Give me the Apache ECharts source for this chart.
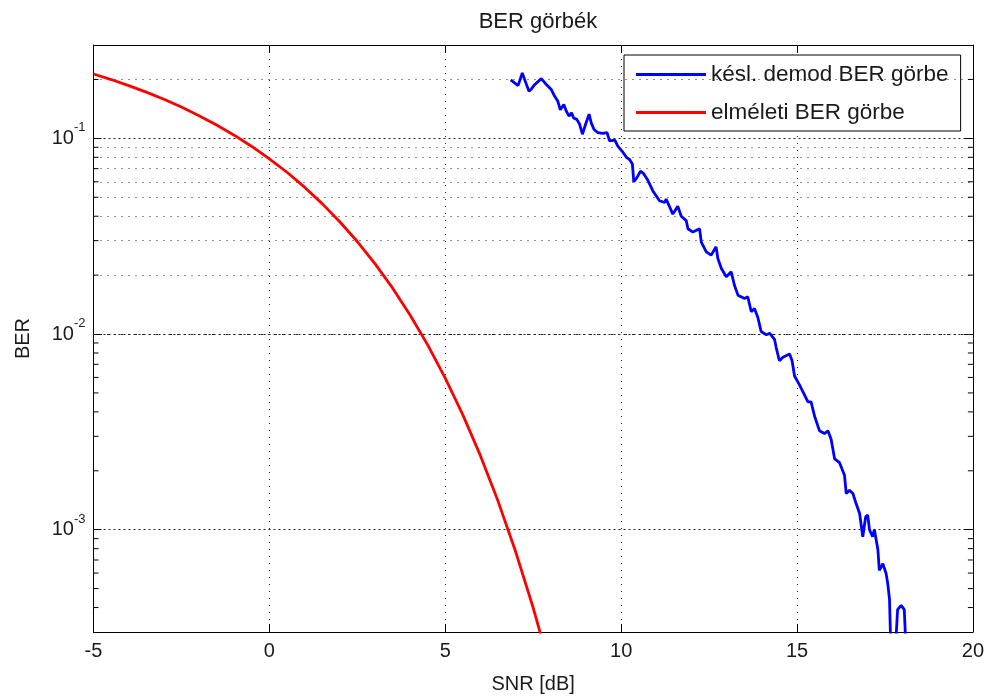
<!DOCTYPE html>
<html>
<head>
<meta charset="utf-8">
<title>BER görbék</title>
<script src="https://cdn.jsdelivr.net/npm/echarts@6/dist/echarts.min.js"></script>
<style>
  html, body { margin: 0; padding: 0; background: #fff; }
  #chart { width: 987px; height: 699px; }
</style>
</head>
<body>
<div id="chart"></div>
<script>
// Theoretical BER curve (SNR in dB, BER)
const theorySnr = [-5, -4.5, -4, -3.5, -3, -2.5, -2, -1.5, -1, -0.5, 0, 0.5, 1, 1.5, 2, 2.5,
  3, 3.5, 4, 4.5, 5, 5.5, 6, 6.5, 7, 7.5, 8];
const theoryBer = [0.2132, 0.1998, 0.1861, 0.1723, 0.1584, 0.1445, 0.1306, 0.1170, 0.1038,
  0.0909, 0.0786, 0.0671, 0.0563, 0.0464, 0.0375, 0.0297, 0.0229, 0.0172, 0.0125, 0.0088,
  0.00595, 0.00386, 0.00239, 0.00140, 0.000773, 0.000399, 0.000191];

// Simulated BER of the delayed demodulator
const simSnr = [6.86, 6.97, 7.07, 7.19, 7.26, 7.38, 7.45, 7.54, 7.73, 7.88,
  8.02, 8.11, 8.20, 8.27, 8.37, 8.44, 8.52, 8.59, 8.65, 8.74,
  8.82, 8.90, 8.99, 9.09, 9.15, 9.23, 9.34, 9.48, 9.60, 9.67,
  9.82, 9.91, 10.05, 10.15, 10.24, 10.32, 10.36, 10.45, 10.55, 10.64,
  10.76, 10.90, 11.09, 11.24, 11.28, 11.47, 11.61, 11.71, 11.85, 11.90,
  12.04, 12.23, 12.28, 12.42, 12.56, 12.70, 12.75, 12.85, 12.99, 13.13,
  13.22, 13.32, 13.51, 13.60, 13.70, 13.79, 13.89, 13.98, 14.13, 14.22,
  14.36, 14.41, 14.50, 14.60, 14.79, 14.86, 14.93, 15.07, 15.21, 15.31,
  15.40, 15.50, 15.64, 15.78, 15.88, 15.97, 16.07, 16.21, 16.35, 16.40,
  16.49, 16.59, 16.68, 16.78, 16.87, 16.95, 17.01, 17.06, 17.15, 17.20,
  17.30, 17.34, 17.44, 17.53, 17.58, 17.63, 17.68, 17.77, 17.86, 17.96,
  18.05, 18.12];
const simBer = [0.199, 0.192, 0.186, 0.216, 0.199, 0.174, 0.179, 0.188, 0.202, 0.188,
  0.177, 0.164, 0.155, 0.140, 0.149, 0.138, 0.130, 0.135, 0.127, 0.125,
  0.118, 0.105, 0.118, 0.133, 0.120, 0.111, 0.107, 0.106, 0.107, 0.097,
  0.098, 0.091, 0.085, 0.080, 0.078, 0.074, 0.060, 0.063, 0.068, 0.066,
  0.061, 0.054, 0.048, 0.047, 0.049, 0.041, 0.045, 0.040, 0.038, 0.0345,
  0.0332, 0.0345, 0.0295, 0.0263, 0.0253, 0.0279, 0.0243, 0.0216, 0.0196, 0.0208,
  0.0178, 0.0158, 0.0152, 0.0155, 0.0130, 0.0135, 0.0121, 0.0103, 0.0099, 0.0101,
  0.0094, 0.0085, 0.0073, 0.0076, 0.0079, 0.0073, 0.0061, 0.0055, 0.0049, 0.0045,
  0.0045, 0.0038, 0.0032, 0.0031, 0.0032, 0.0029, 0.0023, 0.0022, 0.0019, 0.00153,
  0.00159, 0.00153, 0.00136, 0.00121, 0.00092, 0.00116, 0.00119, 0.00100, 0.00092, 0.00100,
  0.00079, 0.00062, 0.00067, 0.00060, 0.00053, 0.00044, 0.0002, 0.0002, 0.00039, 0.00041,
  0.00039, 0.0002];

// Axis ranges and ticks
const xMin = -5, xMax = 20, xStep = 5;
const yMin = 3e-4, yMax = 0.3;
// Minor log grid lines (2..9 within each decade)
const minorGrid = [0.2,
  0.09, 0.08, 0.07, 0.06, 0.05, 0.04, 0.03, 0.02,
  0.009, 0.008, 0.007, 0.006, 0.005, 0.004, 0.003, 0.002,
  0.0009, 0.0008, 0.0007, 0.0006, 0.0005, 0.0004];

const seriesNames = ['késl. demod BER görbe', 'elméleti BER görbe'];

const FONT = 'Liberation Sans, Arial, sans-serif';
const INK = '#1a1a1a';

function pairs(xs, ys) { return xs.map((x, i) => [x, ys[i]]); }

function decadeLabel(v) {
  const e = Math.log10(v);
  const k = Math.round(e);
  if (Math.abs(e - k) > 1e-6) return '';
  return '{b|10}{s|' + k + '}';
}

const chart = echarts.init(document.getElementById('chart'), null, { renderer: 'canvas' });

const logAxisBase = {
  type: 'log',
  logBase: 10,
  min: yMin,
  max: yMax,
  axisLine: { onZero: false, lineStyle: { color: '#000', width: 1 } },
  axisTick: { inside: true, length: 8, lineStyle: { color: '#000' } }
};

chart.setOption({
  animation: false,
  backgroundColor: '#fff',
  textStyle: { fontFamily: FONT, color: INK },
  title: {
    text: 'BER görbék',
    left: 533,
    top: 6,
    textAlign: 'center',
    textStyle: { fontFamily: FONT, fontSize: 22, fontWeight: 'normal', color: INK }
  },
  grid: { left: 93.5, right: 13, top: 45, bottom: 63, containLabel: false },
  legend: {
    data: seriesNames.map(n => ({ name: n, icon: 'rect' })),
    orient: 'vertical',
    left: 624,
    top: 55,
    padding: [8, 12, 7, 12],
    itemGap: 15,
    itemWidth: 70,
    itemHeight: 3,
    backgroundColor: '#fff',
    borderColor: '#000',
    borderWidth: 1,
    borderRadius: 0,
    selectedMode: false,
    textStyle: { fontFamily: FONT, fontSize: 22.5, color: INK, lineHeight: 22 }
  },
  xAxis: [{
    type: 'value',
    min: xMin, max: xMax, interval: xStep,
    name: 'SNR [dB]',
    nameLocation: 'middle',
    nameGap: 42,
    nameTextStyle: { fontFamily: FONT, fontSize: 20, color: INK },
    axisLine: { onZero: false, lineStyle: { color: '#000', width: 1 } },
    axisTick: { inside: true, length: 8, lineStyle: { color: '#000' } },
    axisLabel: { fontFamily: FONT, fontSize: 20, color: INK, margin: 9 },
    splitLine: { show: true, lineStyle: { color: '#222', type: [1, 6], width: 1 } }
  }, {
    type: 'value',
    position: 'top',
    min: xMin, max: xMax, interval: xStep,
    axisLine: { onZero: false, lineStyle: { color: '#000', width: 1 } },
    axisTick: { inside: true, length: 8, lineStyle: { color: '#000' } },
    axisLabel: { show: false },
    splitLine: { show: false }
  }],
  yAxis: [Object.assign({}, logAxisBase, {
    name: 'BER',
    nameLocation: 'middle',
    nameGap: 60,
    nameTextStyle: { fontFamily: FONT, fontSize: 20, color: INK },
    axisLabel: {
      margin: 8,
      formatter: decadeLabel,
      rich: {
        b: { fontFamily: FONT, fontSize: 20, color: INK, lineHeight: 34 },
        s: { fontFamily: FONT, fontSize: 13, color: INK, lineHeight: 13, verticalAlign: 'top' }
      }
    },
    splitLine: { show: true, lineStyle: { color: '#222', type: [2, 3], width: 1 } }
  }), Object.assign({}, logAxisBase, {
    position: 'right',
    axisLabel: { show: false },
    splitLine: { show: false }
  })],
  series: [{
    name: seriesNames[0],
    type: 'line',
    data: pairs(simSnr, simBer),
    showSymbol: false,
    clip: true,
    z: 5,
    lineStyle: { color: '#0000ff', width: 2.8 },
    itemStyle: { color: '#0000ff' },
    markLine: {
      silent: true,
      symbol: 'none',
      label: { show: false },
      animation: false,
      lineStyle: { color: '#222', type: [1, 6], width: 1 },
      data: minorGrid.map(v => ({ yAxis: v }))
    }
  }, {
    name: seriesNames[1],
    type: 'line',
    data: pairs(theorySnr, theoryBer),
    showSymbol: false,
    clip: true,
    z: 5,
    lineStyle: { color: '#ff0000', width: 2.8 },
    itemStyle: { color: '#ff0000' }
  }, {
    // short minor ticks on the left and right edges of the plot box
    name: 'minorTicks',
    type: 'custom',
    silent: true,
    z: 6,
    data: minorGrid.map(v => [xMin, v]),
    encode: { x: 0, y: 1 },
    renderItem: function (params, api) {
      const cs = params.coordSys;
      const y = api.coord([api.value(0), api.value(1)])[1];
      const style = { stroke: '#000', lineWidth: 1 };
      return {
        type: 'group',
        children: [
          { type: 'line', shape: { x1: cs.x, y1: y, x2: cs.x + 5, y2: y }, style: style },
          { type: 'line', shape: { x1: cs.x + cs.width - 5, y1: y, x2: cs.x + cs.width, y2: y }, style: style }
        ]
      };
    }
  }]
});
</script>
</body>
</html>
